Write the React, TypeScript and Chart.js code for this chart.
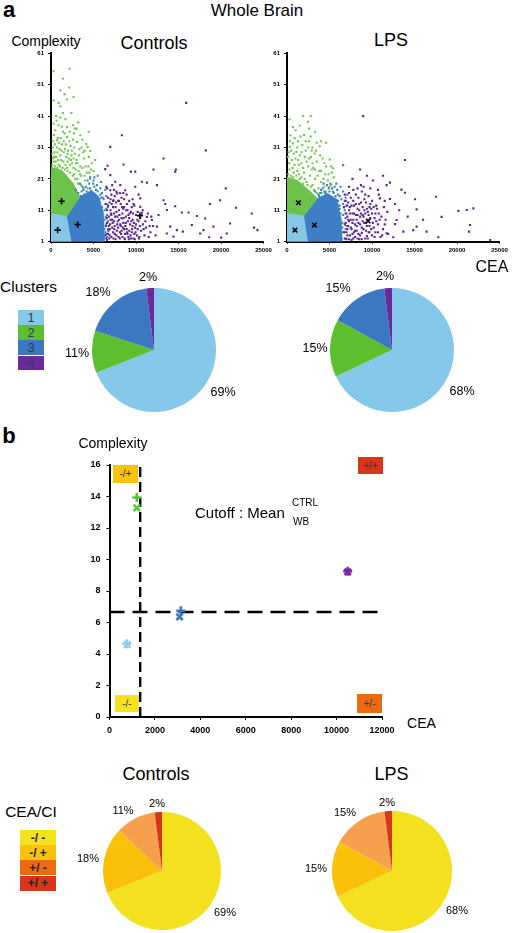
import React, { useEffect, useRef } from 'react';
import { Chart, registerables } from 'chart.js';
Chart.register(...registerables);

const FONT = '"Liberation Sans", Arial, sans-serif';

// ---------- Panel a : scatter data (CEA, Complexity) ----------
const CTRL_C1_REGION = [[0, 1], [0, 10], [1830, 9], [2350, 1]];
const CTRL_C2_REGION = [[0, 10], [0, 24.8], [1250, 23.8], [2620, 19.6], [3400, 15.3], [1830, 9]];
const CTRL_C3_REGION = [[1830, 9], [3400, 15.3], [4770, 17.4], [5600, 15.5], [6200, 10], [6300, 1], [2350, 1]];

const CTRL_C2_PTS = [[310, 55.3], [2190, 56.1], [1410, 52.9], [1100, 49.2], [2150, 50.1], [2660, 47.1], [1880, 46.3], [900, 45.2], [1100, 44.1], [2590, 38.1], [4430, 36], [900, 38.1], [310, 38.6], [1290, 37.6], [3450, 34.9], [4150, 32.1], [4310, 31.2], [4620, 29.9], [3060, 32.8], [1880, 34.4], [705, 33.3], [500, 36.5], [1600, 35.5], [2300, 31.5], [200, 31], [1000, 30.5], [1500, 29.5], [2800, 29], [3300, 28.5], [3900, 27.5], [600, 28], [2100, 27.5], [1200, 27], [300, 26.5], [2500, 26], [3100, 26], [3700, 24.5], [900, 25.5], [1700, 25.5], [4200, 23], [2900, 24], [3400, 22.5], [4600, 21], [4000, 20.5], [3100, 21], [2700, 22.5], [1900, 24.5], [800, 34], [1300, 32], [2000, 30], [2600, 33.5], [3600, 31], [400, 29.5], [1100, 28.5], [1800, 28], [2400, 28.5], [3000, 27], [700, 31], [1500, 33], [3800, 29.5], [4800, 26], [4400, 25], [5000, 23.5], [2200, 36], [1700, 40], [600, 41], [3200, 39], [1400, 42],
  [150, 25.5], [450, 25], [750, 24.5], [1050, 25], [1350, 24.5], [1650, 24], [1950, 23.5], [2250, 23], [2550, 22], [2850, 21], [3150, 19.5], [3550, 19], [3850, 18], [4300, 18], [250, 27.5], [550, 26.5], [850, 27], [1450, 26.5], [1950, 26.5], [2250, 25.5], [2650, 24.5], [3250, 23.5], [3550, 22], [3950, 22], [4500, 23], [150, 29], [350, 28], [750, 29.5], [1250, 30], [1650, 30.5], [1950, 29], [2350, 27], [2650, 27.5], [2950, 26], [3450, 25], [4050, 25], [4700, 24], [200, 33], [450, 32], [950, 32.5], [1150, 34], [1750, 32], [2150, 33], [2450, 30], [2750, 31], [3350, 30.5], [3950, 30], [4450, 28], [5200, 27], [350, 35], [1400, 36], [1900, 37.5], [2700, 35.5], [3000, 37], [650, 39.5], [1100, 40.5], [2400, 42], [300, 46], [1600, 48], [2800, 37], [3700, 33.5]];
const CTRL_C3_PTS = [[3600, 17], [4100, 18.5], [4500, 19.5], [5000, 20.5], [5400, 19], [5800, 18], [4700, 17], [5300, 17.5], [6000, 16.5], [6200, 14.5], [5900, 15], [6400, 13], [6500, 11.5], [6600, 9.5], [6300, 8], [6500, 6.5], [6700, 5], [6400, 4], [6600, 2.5], [6200, 2], [5900, 3], [6000, 12], [5700, 13.5], [5500, 11], [5200, 14.5], [4900, 15.5], [4400, 16], [3900, 16], [3700, 18.5], [4300, 20.5], [6100, 6], [5800, 9], [5600, 5], [6400, 17.5], [5100, 21.5],
  [3200, 16.5], [3500, 15.5], [3800, 17.5], [4200, 17], [4600, 18], [5100, 18.5], [5500, 17], [5800, 16], [6100, 15], [6300, 11], [6450, 9], [6500, 3.5], [6300, 5], [6100, 1.5], [5900, 7], [6100, 8.5], [6000, 10], [5800, 11], [5700, 14.5], [4950, 19.5], [3400, 19.5], [2900, 17.5], [5500, 22], [4600, 21.5], [5900, 20], [6500, 15.5], [6700, 12], [6700, 7.5]];
const CTRL_C4_PTS = [[6500, 2], [6700, 3.5], [6900, 5], [7100, 2.5], [7300, 4], [7500, 6], [7700, 3], [7900, 5.5], [8100, 2], [8300, 4.5], [8500, 7], [8700, 3.5], [8900, 5], [9100, 2.5], [9300, 6.5], [9500, 4], [9700, 2], [9900, 5.5], [10100, 3], [10300, 7.5], [6600, 7], [6800, 9], [7000, 11], [7200, 8], [7400, 10], [7600, 12], [7800, 9], [8000, 11], [8200, 13], [8400, 10], [8600, 12], [8800, 9], [9000, 11], [9200, 8.5], [9400, 10.5], [9600, 8], [9800, 12.5], [10000, 9.5], [6500, 13], [6700, 15], [6900, 13.5], [7100, 16], [7300, 14], [7500, 15.5], [7700, 17], [7900, 14], [8100, 16.5], [8300, 15], [8600, 14.5], [8900, 16], [9200, 14], [6600, 1.5], [6800, 6], [7000, 8], [7200, 5.5], [7400, 7.5], [7600, 1.8], [7800, 6.5], [8000, 8], [8200, 6], [8400, 2.5], [8600, 5], [8800, 7], [9000, 3.5], [9200, 4.5], [9400, 2], [9600, 6], [9800, 3.5], [10000, 6.5], [10200, 5], [10400, 2.5], [10600, 4.5], [10800, 6.5], [11000, 3], [11200, 5.5], [11500, 2.5], [11700, 4], [12000, 6], [6900, 3], [7100, 9.5], [7300, 12], [7500, 3.5], [7700, 10.5], [8100, 4], [8300, 8.5], [8500, 11.5], [8700, 1.8], [9100, 9.5], [9500, 12], [10200, 10.5], [10500, 8.5], [10800, 11], [15900, 45.2], [8340, 34.9], [6970, 31.2], [18210, 30.1], [13240, 27.5], [8540, 25.6], [9400, 23.3], [9910, 23.3], [12060, 24], [14690, 24], [14610, 23.3], [6660, 25.2], [6380, 24.1], [10690, 20.1], [11280, 19.8], [12460, 19], [20560, 18], [21780, 11.8], [23620, 10], [23890, 5.5], [24290, 4.7], [18720, 13], [19900, 14.2], [18140, 8.4], [17160, 9.2], [15390, 10.3], [16180, 10.3], [14610, 12.3], [13240, 14.2], [13440, 13], [13630, 11.1], [12650, 9.5], [11280, 8.9], [11870, 7.9], [12460, 5.8], [14020, 5.8], [14810, 4.7], [15510, 4.2], [16570, 6.3], [17940, 4.7], [18610, 2.4], [20020, 2.3], [20680, 3.6], [21070, 6.8], [19110, 5.8], [17550, 3.6], [14410, 2.6], [13630, 3.6], [10500, 12.1], [9710, 13], [10690, 10.2], [8930, 13], [7360, 14.2], [7760, 16.4], [8730, 17.4], [9910, 18.5], [10500, 14.8], [7560, 20.1], [8150, 19], [6970, 22.2], [6500, 18.5], [6970, 17.4],
  [6400, 3], [6450, 6], [6550, 8.5], [6600, 11], [6700, 12.5], [6750, 4.5], [6850, 2], [6950, 6.5], [7050, 10], [7150, 13], [7250, 7], [7350, 2], [7450, 5], [7550, 9], [7650, 13.5], [7750, 4.5], [7850, 7.5], [7950, 2.5], [8050, 9.5], [8150, 6.5], [8250, 3.5], [8350, 12], [8450, 5.5], [8550, 8.5], [8650, 2], [8750, 6], [8850, 11], [8950, 4], [9050, 7.5], [9150, 1.8], [9250, 10], [9350, 3], [9450, 7.5], [9550, 5], [9650, 10], [9750, 7], [9850, 1.8], [9950, 4], [10150, 8], [10350, 2], [10450, 6], [10650, 9.5], [10900, 5], [11100, 7.5], [11400, 10], [11600, 6], [7000, 14.5], [7400, 17.5], [8000, 14], [8500, 16.5], [9600, 14.5], [10300, 16], [6600, 18], [7200, 19], [11800, 9], [12300, 3]];
const CTRL_CENTROIDS = [[780, 4.7], [1250, 13.9], [3130, 6.5], [10460, 9.3]];

const LPS_C1_REGION = [[0, 1], [0, 10], [1960, 9.2], [2430, 1]];
const LPS_C2_REGION = [[0, 10], [0, 21.7], [1240, 20.6], [2600, 17.4], [3580, 14.8], [1960, 9.2]];
const LPS_C3_REGION = [[1960, 9.2], [3580, 14.8], [4770, 16.4], [5900, 14.5], [6400, 8], [6500, 1], [2430, 1]];

const LPS_C2_PTS = [[2480, 39.2], [400, 34.9], [710, 32.3], [1800, 31.8], [3850, 31.4], [330, 31.2], [1100, 29.6], [3260, 29.1], [5030, 27.2], [5420, 24.4], [130, 28], [600, 27], [1500, 28.5], [2200, 30], [2800, 28], [3500, 26.5], [4200, 27.5], [900, 25.5], [1700, 26], [2500, 25], [3100, 24.5], [3800, 23.5], [4500, 22.5], [300, 24], [1200, 23.5], [2000, 23], [2700, 22], [3300, 21], [4000, 20], [4800, 20.5], [5200, 19], [700, 21.5], [1500, 21], [2300, 20], [3000, 19], [3700, 18], [4400, 18.5], [500, 30], [1300, 33], [2600, 33], [3000, 31], [2000, 35], [1000, 36.5], [4600, 25], [5500, 21.5], [3500, 32.5], [1900, 19.5], [2900, 24], [1300, 27],
  [150, 22.5], [450, 22], [800, 23], [1100, 22], [1400, 22.5], [1700, 21.5], [2100, 21], [2400, 19], [2800, 18.5], [3200, 17.5], [3500, 16.5], [4100, 16.5], [4600, 17], [5000, 18.5], [250, 26], [650, 24.5], [1000, 27.5], [1400, 25.5], [1900, 24.5], [2300, 26.5], [2600, 27.5], [3000, 26], [3300, 24], [3600, 22], [4000, 23.5], [4300, 21], [4900, 22.5], [5300, 23], [200, 29.5], [800, 29], [1200, 31], [1700, 29.5], [2100, 28], [2500, 31], [2900, 30], [3400, 30], [3900, 28.5], [4400, 26], [5200, 25], [350, 33], [900, 34], [1600, 34.5], [2200, 33], [2800, 34.5], [3300, 36], [700, 37.5], [1500, 38], [2600, 37], [4000, 33], [300, 40], [4600, 32.5], [1900, 41], [2800, 41]];
const LPS_C3_PTS = [[6600, 17], [6900, 15], [5900, 17.5], [5300, 18], [4700, 19], [4200, 18], [6000, 16], [6600, 13], [6800, 11], [6900, 8.5], [7000, 6], [6800, 4], [6900, 2], [6600, 9.5], [6500, 5.5], [6200, 11.5], [5500, 16.5], [3900, 16.5], [4400, 17], [5000, 17], [6300, 18.5], [5800, 19.5], [7100, 16], [6400, 14.5], [6100, 3], [6700, 12], [5700, 12], [6600, 25.4], [3800, 15.5],
  [3700, 16], [4000, 17.5], [4500, 16.5], [4900, 18], [5400, 17], [5700, 15.5], [6000, 14], [6200, 12.5], [6300, 10], [6500, 7], [6600, 4], [6400, 2], [6100, 5], [6000, 9], [5800, 10.5], [6200, 15.5], [5600, 18.5], [5100, 19.5], [6800, 14], [7000, 10], [7100, 12.5], [6900, 5], [3300, 17], [4300, 19.5]];
const LPS_C4_PTS = [[6800, 2], [7000, 4], [7200, 6], [7400, 3], [7600, 5], [7800, 8], [8000, 2.5], [8200, 4.5], [8400, 7], [8600, 3], [8800, 5.5], [9000, 9], [9200, 2], [9400, 6], [9600, 4], [9800, 8.5], [10000, 3], [10200, 5.5], [10400, 10], [6900, 7], [7100, 9], [7300, 11], [7500, 8], [7700, 10], [7900, 12.5], [8100, 9.5], [8300, 11.5], [8500, 13], [8700, 10], [8900, 12], [9100, 11], [9300, 13.5], [9500, 10.5], [9700, 12], [9900, 11.5], [6700, 12], [6900, 14], [7200, 13.5], [7500, 15], [7800, 14], [8100, 16], [8400, 15], [8800, 17], [9200, 16], [9600, 15.5], [10000, 14], [10500, 12.5], [10800, 10], [7000, 1.8], [7300, 7.5], [7600, 1.5], [7900, 4], [8200, 8], [8500, 1.8], [8800, 3.8], [9100, 7], [9400, 2.8], [9700, 6], [10100, 7], [10400, 4], [10700, 6.5], [11000, 2.5], [11300, 5], [11600, 8], [11900, 3.5], [7100, 5], [7400, 12], [7700, 3.5], [8000, 6.5], [8300, 2], [8600, 9], [8900, 7.5], [9300, 4.5], [9500, 8], [9900, 5], [10300, 8.5], [10600, 11.5], [11100, 9], [11400, 12], [11800, 10.5], [8700, 19], [9800, 18], [10800, 16], [11500, 14], [7700, 21], [9400, 22], [8600, 24], [10100, 20.5], [8960, 41], [13870, 27], [12110, 19.8], [11720, 19], [13460, 17.6], [13870, 16.6], [10930, 14.8], [12110, 14.6], [12700, 13], [15060, 14.5], [15250, 11.3], [17530, 15.3], [18190, 8.9], [20160, 10.8], [21140, 11.1], [21930, 11.6], [21540, 6.3], [21420, 4.2], [23900, 1.5], [16420, 4.2], [17800, 2.4], [14850, 4.7], [15250, 5.8], [12700, 6.6], [12890, 7.9], [11710, 3.7], [12500, 2.4], [13680, 4.2], [14200, 9], [13200, 11], [16000, 8], [10700, 17.5], [11300, 22], [7300, 18.5],
  [6700, 4], [6800, 6.5], [6900, 10], [7000, 12.5], [7100, 3], [7200, 8], [7300, 1.8], [7400, 10], [7500, 5.5], [7600, 12.5], [7700, 7], [7800, 2], [7900, 10], [8000, 4.5], [8100, 13], [8200, 6], [8300, 9.5], [8400, 3.5], [8500, 11], [8600, 6.5], [8700, 13.5], [8800, 1.8], [8900, 9.5], [9000, 5], [9100, 14.5], [9200, 10], [9300, 7], [9400, 11.5], [9500, 2], [9600, 9.5], [9700, 4], [9800, 13], [10000, 10], [10200, 12], [10300, 2.5], [10500, 7.5], [10700, 4], [10900, 8], [11200, 3], [11500, 6.5], [6800, 16], [7300, 16.5], [7800, 17.5], [8300, 18], [9000, 18.5]];
const LPS_CENTROIDS = [[940, 4.7], [1340, 13.4], [3220, 6.3], [9550, 7.6]];

const SCATTER_X_TICKS = [0, 5000, 10000, 15000, 20000, 25000];
const SCATTER_Y_TICKS = [1, 11, 21, 31, 41, 51, 61];

// ---------- Pies ----------
const CLUSTER_LABELS = ['1', '2', '3', '4'];
const CTRL_CLUSTER_PCT = [69, 11, 18, 2];
const LPS_CLUSTER_PCT = [68, 15, 15, 2];
const QUAD_LABELS = ['-/ -', '-/ +', '+/ -', '+/ +'];
const CTRL_QUAD_PCT = [69, 18, 11, 2];
const LPS_QUAD_PCT = [68, 15, 15, 2];

// ---------- Panel b ----------
const B_CTRL_CEA = [760, 1200, 3142, 10490];
const B_CTRL_CI = [4.65, 13.94, 6.74, 9.25];
const B_LPS_CEA = [780, 1204, 3084, 10490];
const B_LPS_CI = [4.6, 13.28, 6.36, 9.22];
const CUTOFF_CEA = 1351;
const CUTOFF_CI = 6.67;
const B_X_TICKS = [0, 2000, 4000, 6000, 8000, 10000, 12000];
const B_Y_TICKS = [0, 2, 4, 6, 8, 10, 12, 14, 16];

// ---------- colours ----------
const CLUSTER_COLORS = ['#85c8ea', '#5cbf2e', '#3b78c0', '#6b2a9c'];
const REGION_COLORS = ['#86c7e6', '#6cc24a', '#3d7ec6'];
const PT_GREEN = '#6fca4c';
const PT_BLUE = '#3d80c8';
const PT_PURPLE = '#5e2390';
const QUAD_COLORS = ['#f4e11f', '#f9c20b', '#eb6a12', '#d9351d'];
const QUAD_PIE_COLORS = ['#f3e01e', '#f9c10a', '#f6a04e', '#d9351d'];
const B_COLORS = ['#8fd0ee', '#5cc43a', '#3a78c0', '#7a2aa8'];

type Box = { left: number; top: number; w: number; h: number };
type Area = { left: number; right: number; top: number; bottom: number };

const xy = (arr: number[][]) => arr.map(([x, y]) => ({ x, y }));

function layoutFor(box: Box, area: Area, yW: number, xH: number) {
  return {
    autoPadding: false,
    padding: {
      left: area.left - box.left - yW,
      right: box.left + box.w - area.right,
      top: area.top - box.top,
      bottom: box.top + box.h - area.bottom - xH,
    },
  };
}
const fixW = (w: number) => (s: any) => { s.width = w; s.paddingLeft = 0; s.paddingRight = 0; s.paddingTop = 0; s.paddingBottom = 0; };
const fixH = (h: number) => (s: any) => { s.height = h; s.paddingLeft = 0; s.paddingRight = 0; s.paddingTop = 0; s.paddingBottom = 0; };

function axis(min: number, max: number, ticks: number[], fontSize: number, tickLen: number, pad: number, fit: any) {
  return {
    type: 'linear',
    min, max,
    afterBuildTicks: (s: any) => { s.ticks = ticks.map((v) => ({ value: v })); },
    ticks: { color: '#000', font: { family: FONT, size: fontSize, weight: 'bold' }, padding: pad, callback: (v: any) => String(v), maxRotation: 0, autoSkip: false },
    grid: { display: true, drawOnChartArea: false, drawTicks: true, tickLength: tickLen, color: '#000', lineWidth: 1 },
    border: { display: true, color: '#000', width: 2 },
    afterFit: fit,
  };
}

function polygon(pairs: number[][], color: string) {
  const pts = xy(pairs);
  pts.push({ ...pts[0] });
  return { data: pts, showLine: true, fill: 'shape', backgroundColor: color, borderColor: color, borderWidth: 0.5, pointRadius: 0, order: 20 };
}
function dots(pairs: number[][], color: string) {
  return { data: xy(pairs), showLine: false, pointRadius: 1.5, pointStyle: 'rect', backgroundColor: color, borderWidth: 0, order: 10 };
}

function topScatter(box: Box, area: Area, regions: number[][][], g: number[][], b: number[][], p: number[][], cent: number[][], centStyle: string) {
  return {
    type: 'scatter',
    data: {
      datasets: [
        { data: xy(cent), pointStyle: centStyle, pointRadius: 3.2, borderColor: '#000', backgroundColor: '#000', borderWidth: 1.6, order: 0 },
        dots(p, PT_PURPLE),
        dots(b, PT_BLUE),
        dots(g, PT_GREEN),
        polygon(regions[0], REGION_COLORS[0]),
        polygon(regions[1], REGION_COLORS[1]),
        polygon(regions[2], REGION_COLORS[2]),
      ],
    },
    options: {
      animation: false, responsive: false, events: [],
      layout: layoutFor(box, area, 22, 14),
      plugins: { legend: { display: false }, tooltip: { enabled: false } },
      scales: {
        x: axis(0, 25000, SCATTER_X_TICKS, 6, 2, 3, fixH(14)),
        y: axis(1, 61, SCATTER_Y_TICKS, 6, 3, 4, fixW(22)),
      },
    },
  };
}

function pieConfig(values: number[], colors: string[]) {
  return {
    type: 'pie',
    data: { labels: values.map((_, i) => String(i)), datasets: [{ data: values, backgroundColor: colors, borderWidth: 0, hoverOffset: 0, hoverBorderWidth: 0 }] },
    options: { animation: false, responsive: false, events: [], layout: { padding: 0 }, plugins: { legend: { display: false }, tooltip: { enabled: false } } },
  };
}

function bConfig(box: Box, area: Area) {
  return {
    type: 'scatter',
    data: {
      datasets: [
        { data: B_CTRL_CEA.map((x, i) => ({ x, y: B_CTRL_CI[i] })), pointStyle: 'cross', pointRadius: 4.5, borderWidth: 2.6, borderColor: B_COLORS, backgroundColor: B_COLORS, order: 1 },
        { data: B_LPS_CEA.map((x, i) => ({ x, y: B_LPS_CI[i] })), pointStyle: 'crossRot', pointRadius: 4.5, borderWidth: 2.6, borderColor: B_COLORS, backgroundColor: B_COLORS, order: 2 },
        { data: [{ x: CUTOFF_CEA, y: 0 }, { x: CUTOFF_CEA, y: 16 }], showLine: true, borderColor: '#000', borderWidth: 2.4, borderDash: [10, 5], pointRadius: 0, order: 5 },
        { data: [{ x: 0, y: CUTOFF_CI }, { x: 12000, y: CUTOFF_CI }], showLine: true, borderColor: '#000', borderWidth: 2.4, borderDash: [15, 8], pointRadius: 0, order: 5 },
      ],
    },
    options: {
      animation: false, responsive: false, events: [],
      layout: layoutFor(box, area, 26, 22),
      plugins: { legend: { display: false }, tooltip: { enabled: false } },
      scales: {
        x: axis(0, 12000, B_X_TICKS, 9, 3, 5, fixH(22)),
        y: axis(0, 16, B_Y_TICKS, 9, 3, 6, fixW(26)),
      },
    },
  };
}

function ChartBox({ box, make }: { box: Box; make: () => any }) {
  const ref = useRef<HTMLCanvasElement>(null);
  useEffect(() => {
    const c = new Chart(ref.current as HTMLCanvasElement, make());
    return () => c.destroy();
  }, []);
  return (
    <canvas ref={ref} width={box.w} height={box.h}
      style={{ position: 'absolute', left: box.left, top: box.top, width: box.w, height: box.h }} />
  );
}

function T({ x, y, size, children, bold, color, anchor }: any) {
  const tx = anchor === 'start' ? '0' : anchor === 'end' ? '-100%' : '-50%';
  return (
    <div style={{ position: 'absolute', left: x, top: y, transform: `translate(${tx}, -50%)`, fontFamily: FONT, fontSize: size, fontWeight: bold ? 'bold' : 'normal', color: color || '#000', lineHeight: 1, whiteSpace: 'nowrap' }}>
      {children}
    </div>
  );
}

function Swatch({ l, t, w, h, color, label, size, bold, textColor }: any) {
  return (
    <div style={{ position: 'absolute', left: l, top: t, width: w, height: h, background: color, display: 'flex', alignItems: 'center', justifyContent: 'center', fontFamily: FONT, fontSize: size, fontWeight: bold ? 'bold' : 'normal', color: textColor || '#333', lineHeight: 1, whiteSpace: 'pre' }}>
      {label}
    </div>
  );
}

const BOX_A1: Box = { left: 18, top: 45, w: 256, h: 213 };
const AREA_A1: Area = { left: 51, right: 263.5, top: 53.3, bottom: 241.7 };
const BOX_A2: Box = { left: 254, top: 45, w: 258, h: 213 };
const AREA_A2: Area = { left: 287, right: 499.5, top: 53.3, bottom: 241.7 };
const BOX_B: Box = { left: 70, top: 455, w: 330, h: 292 };
const AREA_B: Area = { left: 109.5, right: 382, top: 465, bottom: 717 };

export default function App() {
  const legendTop = [310, 325, 340, 355.5];
  const legendBot = [830, 845, 860, 875.5];
  return (
    <div style={{ position: 'absolute', left: 0, top: 0, width: 513, height: 933, background: '#fff', overflow: 'hidden' }}>
      {/* Panel a */}
      <T x={9} y={10} size={22} bold>a</T>
      <T x={257} y={10} size={17}>Whole Brain</T>
      <T x={46} y={41} size={14}>Complexity</T>
      <T x={154} y={43} size={18}>Controls</T>
      <T x={391} y={40} size={18}>LPS</T>
      <ChartBox box={BOX_A1} make={() => topScatter(BOX_A1, AREA_A1, [CTRL_C1_REGION, CTRL_C2_REGION, CTRL_C3_REGION], CTRL_C2_PTS, CTRL_C3_PTS, CTRL_C4_PTS, CTRL_CENTROIDS, 'cross')} />
      <ChartBox box={BOX_A2} make={() => topScatter(BOX_A2, AREA_A2, [LPS_C1_REGION, LPS_C2_REGION, LPS_C3_REGION], LPS_C2_PTS, LPS_C3_PTS, LPS_C4_PTS, LPS_CENTROIDS, 'crossRot')} />
      <T x={492} y={267} size={16}>CEA</T>

      <T x={28.5} y={287} size={15.5}>Clusters</T>
      {CLUSTER_LABELS.map((l, i) => (
        <Swatch key={l} l={18} t={legendTop[i]} w={26} h={14.5} color={CLUSTER_COLORS[i]} label={l} size={13} textColor="#3a3a50" />
      ))}
      <ChartBox box={{ left: 92, top: 288, w: 124, h: 124 }} make={() => pieConfig(CTRL_CLUSTER_PCT, CLUSTER_COLORS)} />
      <ChartBox box={{ left: 330, top: 288, w: 124, h: 124 }} make={() => pieConfig(LPS_CLUSTER_PCT, CLUSTER_COLORS)} />
      <T x={148} y={277} size={12.5}>{CTRL_CLUSTER_PCT[3]}%</T>
      <T x={98} y={292} size={12.5}>{CTRL_CLUSTER_PCT[2]}%</T>
      <T x={77} y={353} size={12.5}>{CTRL_CLUSTER_PCT[1]}%</T>
      <T x={223} y={392} size={12.5}>{CTRL_CLUSTER_PCT[0]}%</T>
      <T x={385} y={276} size={12.5}>{LPS_CLUSTER_PCT[3]}%</T>
      <T x={338} y={288} size={12.5}>{LPS_CLUSTER_PCT[2]}%</T>
      <T x={315} y={348} size={12.5}>{LPS_CLUSTER_PCT[1]}%</T>
      <T x={462} y={391} size={12.5}>{LPS_CLUSTER_PCT[0]}%</T>

      {/* Panel b */}
      <T x={9} y={436} size={22} bold>b</T>
      <T x={113} y={443} size={14}>Complexity</T>
      <ChartBox box={BOX_B} make={() => bConfig(BOX_B, AREA_B)} />
      <T x={421.5} y={723} size={14}>CEA</T>
      <Swatch l={113} t={465} w={25} h={18} color={QUAD_COLORS[1]} label="-/+" size={10} />
      <Swatch l={358} t={457} w={25} h={17} color={QUAD_COLORS[3]} label="+/+" size={10} />
      <Swatch l={115} t={695} w={24} h={17} color={QUAD_COLORS[0]} label="-/-" size={10} />
      <Swatch l={357} t={694} w={25} h={19} color={QUAD_COLORS[2]} label="+/-" size={10} />
      <T x={195} y={512} size={15} anchor="start">Cutoff : Mean</T>
      <T x={292} y={503} size={10} anchor="start">CTRL</T>
      <T x={293} y={522} size={10} anchor="start">WB</T>

      {/* Bottom pies */}
      <T x={156} y={774} size={18}>Controls</T>
      <T x={391.5} y={774} size={18}>LPS</T>
      <T x={31} y={812} size={15.5}>CEA/CI</T>
      {QUAD_LABELS.map((l, i) => (
        <Swatch key={l} l={20} t={legendBot[i]} w={36} h={15} color={QUAD_COLORS[i]} label={l} size={12} bold textColor="#222" />
      ))}
      <ChartBox box={{ left: 102.5, top: 812, w: 118, h: 118 }} make={() => pieConfig(CTRL_QUAD_PCT, QUAD_PIE_COLORS)} />
      <ChartBox box={{ left: 332, top: 811, w: 120, h: 120 }} make={() => pieConfig(LPS_QUAD_PCT, QUAD_PIE_COLORS)} />
      <T x={157} y={803} size={11}>{CTRL_QUAD_PCT[3]}%</T>
      <T x={123} y={810} size={11}>{CTRL_QUAD_PCT[2]}%</T>
      <T x={88} y={858} size={11}>{CTRL_QUAD_PCT[1]}%</T>
      <T x={225} y={912} size={11}>{CTRL_QUAD_PCT[0]}%</T>
      <T x={387} y={802} size={11}>{LPS_QUAD_PCT[3]}%</T>
      <T x={345} y={812} size={11}>{LPS_QUAD_PCT[2]}%</T>
      <T x={316} y={868} size={11}>{LPS_QUAD_PCT[1]}%</T>
      <T x={457} y={910} size={11}>{LPS_QUAD_PCT[0]}%</T>
    </div>
  );
}
